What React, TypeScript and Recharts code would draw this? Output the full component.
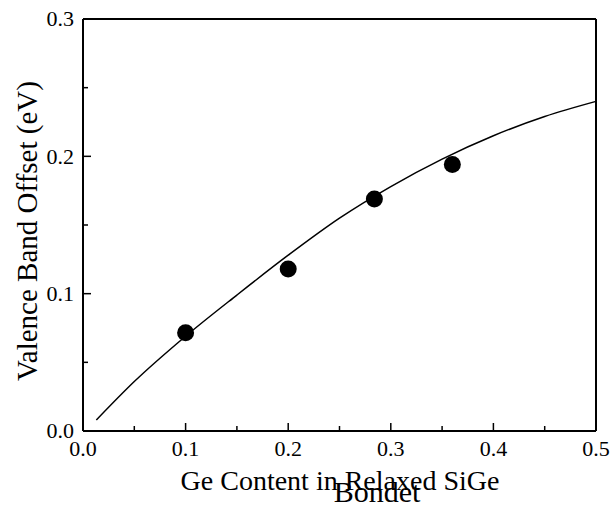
import React from 'react';
import {
  ComposedChart,
  Line,
  Scatter,
  XAxis,
  YAxis,
} from 'recharts';

// fitted curve
const curveX = [0.013, 0.05, 0.1, 0.15, 0.2, 0.25, 0.3, 0.35, 0.4, 0.45, 0.5];
const curveY = [0.008, 0.036, 0.069, 0.099, 0.128, 0.155, 0.178, 0.198, 0.215, 0.229, 0.24];

// measured points
const pointX = [0.1, 0.2, 0.284, 0.36];
const pointY = [0.0715, 0.118, 0.169, 0.194];

const xTicks = [0, 0.05, 0.1, 0.15, 0.2, 0.25, 0.3, 0.35, 0.4, 0.45, 0.5];
const yTicks = [0, 0.05, 0.1, 0.15, 0.2, 0.25, 0.3];

const curveData = curveX.map((x, i) => ({ x, y: curveY[i] }));
const pointData = pointX.map((x, i) => ({ x, y: pointY[i] }));

const FONT = '"Liberation Serif", "Times New Roman", serif';
const txt = { fontFamily: FONT, fill: '#000' };
const isMajor = (v: number) => Math.round(v * 100) % 10 === 0;

function BottomTick({ x, y, payload }: any) {
  const v = payload.value;
  const len = isMajor(v) ? 8 : 5;
  return (
    <g>
      <line x1={x} x2={x} y1={y} y2={y - len} stroke="#000" strokeWidth={1.5} />
      {isMajor(v) && (
        <text x={x} y={y + 25} textAnchor="middle" style={{ ...txt, fontSize: 22 }}>
          {v.toFixed(1)}
        </text>
      )}
    </g>
  );
}

function TopTick({ x, y, payload }: any) {
  const len = isMajor(payload.value) ? 8 : 5;
  return <line x1={x} x2={x} y1={y} y2={y + len} stroke="#000" strokeWidth={1.5} />;
}

function LeftTick({ x, y, payload }: any) {
  const v = payload.value;
  const len = isMajor(v) ? 8 : 5;
  return (
    <g>
      <line x1={x} x2={x + len} y1={y} y2={y} stroke="#000" strokeWidth={1.5} />
      {isMajor(v) && (
        <text x={x - 9} y={y} dy="0.33em" textAnchor="end" style={{ ...txt, fontSize: 22 }}>
          {v.toFixed(1)}
        </text>
      )}
    </g>
  );
}

function RightTick({ x, y, payload }: any) {
  const len = isMajor(payload.value) ? 8 : 5;
  return <line x1={x} x2={x - len} y1={y} y2={y} stroke="#000" strokeWidth={1.5} />;
}

const Dot = (props: any) => <circle cx={props.cx} cy={props.cy} r={8.5} fill="#000" />;

export default function App() {
  return (
    <div style={{ position: 'absolute', left: 0, top: 0, width: 613, height: 508, background: '#fff' }}>
      <ComposedChart
        width={613}
        height={508}
        margin={{ top: 18, right: 16, bottom: 76, left: 82 }}
      >
        <XAxis
          dataKey="x"
          type="number"
          domain={[0, 0.5]}
          ticks={xTicks}
          height={1}
          tickSize={0}
          tickMargin={0}
          tick={<BottomTick />}
          tickLine={false}
          axisLine={{ stroke: '#000', strokeWidth: 2 }}
          interval={0}
        />
        <XAxis
          xAxisId="top"
          orientation="top"
          type="number"
          domain={[0, 0.5]}
          ticks={xTicks}
          height={1}
          tickSize={0}
          tickMargin={0}
          tick={<TopTick />}
          tickLine={false}
          axisLine={{ stroke: '#000', strokeWidth: 2 }}
          interval={0}
        />
        <YAxis
          dataKey="y"
          type="number"
          domain={[0, 0.3]}
          ticks={yTicks}
          width={1}
          tickSize={0}
          tickMargin={0}
          tick={<LeftTick />}
          tickLine={false}
          axisLine={{ stroke: '#000', strokeWidth: 2 }}
          interval={0}
        />
        <YAxis
          yAxisId="right"
          orientation="right"
          type="number"
          domain={[0, 0.3]}
          ticks={yTicks}
          width={1}
          tickSize={0}
          tickMargin={0}
          tick={<RightTick />}
          tickLine={false}
          axisLine={{ stroke: '#000', strokeWidth: 2 }}
          interval={0}
        />
        <Line
          data={curveData}
          dataKey="y"
          type="monotone"
          stroke="#000"
          strokeWidth={1.5}
          dot={false}
          activeDot={false}
          isAnimationActive={false}
        />
        <Scatter data={pointData} dataKey="y" shape={<Dot />} isAnimationActive={false} />
      </ComposedChart>
      <svg
        width={613}
        height={508}
        style={{ position: 'absolute', left: 0, top: 0, pointerEvents: 'none' }}
      >
        <defs>
          <clipPath id="bondet-clip">
            <rect x={0} y={0} width={613} height={503} />
          </clipPath>
        </defs>
        <text
          transform="translate(37, 231) rotate(-90)"
          textAnchor="middle"
          style={{ ...txt, fontSize: 29 }}
        >
          Valence Band Offset (eV)
        </text>
        <text x={340} y={490} textAnchor="middle" style={{ ...txt, fontSize: 28 }}>
          Ge Content in Relaxed SiGe
        </text>
        <text
          x={377}
          y={502}
          textAnchor="middle"
          clipPath="url(#bondet-clip)"
          style={{ ...txt, fontSize: 30 }}
        >
          Bondet
        </text>
      </svg>
    </div>
  );
}
